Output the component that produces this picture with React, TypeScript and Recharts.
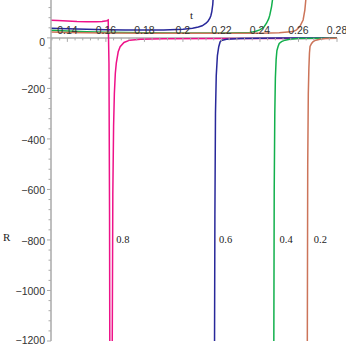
import React from 'react';
import { LineChart, Line, XAxis, YAxis, ReferenceLine, ReferenceDot } from 'recharts';

// [t, R] pairs, one array per branch (each curve has a pole)
const curve08Left = [[0.1315, 70], [0.135, 69], [0.14, 67], [0.145, 65], [0.15, 64], [0.155, 63.5], [0.158, 65], [0.1605, 68], [0.1612, 71], [0.1616, -100], [0.1619, -700], [0.1621, -1500]];
const curve08Right = [[0.1632, -1400], [0.1636, -620], [0.164, -350], [0.1644, -220], [0.1649, -140], [0.1654, -100], [0.1664, -55], [0.1674, -35], [0.1694, -18], [0.1724, -9], [0.178, -5], [0.19, -3], [0.22, -2], [0.25, -2], [0.28, -1.5]];

const curve06Left = [[0.1315, 38], [0.14, 36.5], [0.15, 34], [0.16, 32], [0.17, 31], [0.18, 31], [0.19, 31.5], [0.2, 34], [0.205, 38], [0.208, 43], [0.21, 48], [0.212, 58], [0.213, 66], [0.214, 78], [0.2145, 88], [0.215, 104], [0.2155, 132], [0.2158, 170]];
const curve06Right = [[0.2163, -1500], [0.2166, -700], [0.2169, -300], [0.2173, -150], [0.2179, -70], [0.2186, -35], [0.2193, -16], [0.22, -10], [0.2226, -5], [0.23, -2], [0.25, -0.5], [0.28, 0]];

const curve04Left = [[0.1315, 30], [0.14, 27.5], [0.15, 24], [0.16, 22], [0.18, 20], [0.2, 19], [0.22, 19], [0.23, 20], [0.2347, 21], [0.2375, 25], [0.2399, 31.5], [0.242, 42], [0.2434, 58], [0.2445, 75], [0.2451, 90], [0.246, 123], [0.2465, 150], [0.2468, 190]];
const curve04Right = [[0.2471, -1500], [0.2474, -600], [0.2477, -300], [0.248, -160], [0.2484, -85], [0.2488, -50], [0.2494, -34], [0.25, -22], [0.2512, -15], [0.253, -9], [0.2555, -5], [0.26, -2.5], [0.27, -1.5], [0.28, -1]];

const curve02Left = [[0.1315, 23], [0.14, 21], [0.15, 20], [0.16, 19], [0.18, 18.5], [0.2, 18], [0.22, 18], [0.24, 18.5], [0.25, 20], [0.2572, 25], [0.259, 32], [0.2607, 44.5], [0.2624, 71], [0.2633, 110], [0.2638, 150], [0.2641, 190]];
const curve02Right = [[0.2645, -1500], [0.2648, -500], [0.2651, -220], [0.2654, -120], [0.2657, -60], [0.266, -34], [0.2668, -22], [0.2676, -15], [0.269, -9], [0.2711, -5], [0.274, -2.5], [0.28, -1]];

const curveNames = ['0.8', '0.6', '0.4', '0.2'];
const curveLabelT = [0.1688, 0.2222, 0.2536, 0.2714];
const curveLabelR = -800;

const xMajorTicks = [0.14, 0.16, 0.18, 0.2, 0.22, 0.24, 0.26, 0.28];
const yMajorTicks = [0, -200, -400, -600, -800, -1000, -1200];

const T_DOMAIN = [0.1315, 0.28];
const R_DOMAIN = [-1200, 150];

const COLORS = ['#ee1289', '#28289a', '#12b04c', '#cc7459'];
const AXIS = '#aaaaaa';
const SANS = '"Liberation Sans", Arial, sans-serif';
const SERIF = '"Liberation Serif", "Times New Roman", serif';

const toRows = (pairs: number[][]) => pairs.map(([t, R]) => ({ t, R }));

// minor ticks: 5 subdivisions between labelled ticks
const xMinorTicks: number[] = [];
for (let i = 0; i < xMajorTicks.length - 1; i++) {
  for (let k = 1; k < 5; k++) xMinorTicks.push(xMajorTicks[i] + (k * (xMajorTicks[i + 1] - xMajorTicks[i])) / 5);
}
xMinorTicks.unshift(0.136, 0.132);
const yAllTicks: number[] = [];
for (let i = 0; i < yMajorTicks.length; i++) {
  yAllTicks.push(yMajorTicks[i]);
  if (i < yMajorTicks.length - 1) {
    for (let k = 1; k < 5; k++) yAllTicks.push(yMajorTicks[i] + (k * (yMajorTicks[i + 1] - yMajorTicks[i])) / 5);
  }
}
yAllTicks.push(120, 80, 40);

const fmtR = (v: number) => (v < 0 ? '\u2212' + Math.abs(v) : String(v));

const YTick = (props: any) => {
  const { x, y, payload } = props;
  const v = payload.value;
  const major = v <= 0 && v % 200 === 0;
  const dy = v === 0 ? 4 : v === -1200 ? -1 : 1;
  return (
    <g>
      <line x1={x - (major ? 4 : 2.5)} x2={x} y1={y} y2={y} stroke={AXIS} strokeWidth={1} />
      {major && (
        <text x={x - 6} y={y + dy} textAnchor="end" dominantBaseline="central" fontSize={10.5} fontFamily={SANS} fill="#333">
          {fmtR(v)}
        </text>
      )}
    </g>
  );
};

export default function App() {
  const branches = [
    [curve08Left, curve08Right],
    [curve06Left, curve06Right],
    [curve04Left, curve04Right],
    [curve02Left, curve02Right],
  ];
  return (
    <div style={{ position: 'absolute', left: 0, top: 0, width: 346, height: 346, background: '#fff' }}>
      <LineChart width={346} height={346} margin={{ top: 0, right: 9, bottom: 5, left: 0 }}>
        <XAxis type="number" dataKey="t" domain={T_DOMAIN} allowDataOverflow hide />
        <YAxis
          type="number"
          domain={R_DOMAIN}
          allowDataOverflow
          ticks={yAllTicks}
          interval={0}
          width={51}
          tickSize={0}
          tickMargin={0}
          tickLine={false}
          axisLine={{ stroke: AXIS, strokeWidth: 1.5 }}
          tick={<YTick />}
        />
        <ReferenceLine y={0} stroke={AXIS} strokeWidth={1.5} />
        {xMinorTicks.map((t) => (
          <ReferenceDot
            key={'m' + t}
            x={t}
            y={0}
            r={1}
            shape={(p: any) => <line x1={p.cx} x2={p.cx} y1={p.cy} y2={p.cy + 2.5} stroke={AXIS} strokeWidth={1} />}
          />
        ))}
        {xMajorTicks.map((t) => (
          <ReferenceDot
            key={'M' + t}
            x={t}
            y={0}
            r={1}
            shape={(p: any) => (
              <g>
                <line x1={p.cx} x2={p.cx} y1={p.cy} y2={p.cy + 4} stroke={AXIS} strokeWidth={1} />
                <text x={p.cx} y={p.cy - 4} textAnchor="middle" fontSize={10.5} fontFamily={SANS} fill="#333">
                  {String(Number(t.toFixed(2)))}
                </text>
              </g>
            )}
          />
        ))}
        {branches.map((pair, i) =>
          pair.map((b, j) => (
            <Line
              key={i + '-' + j}
              data={toRows(b)}
              dataKey="R"
              type="linear"
              stroke={COLORS[i]}
              strokeWidth={1.5}
              dot={false}
              isAnimationActive={false}
            />
          ))
        )}
        {curveLabelT.map((t, i) => (
          <ReferenceDot
            key={'l' + i}
            x={t}
            y={curveLabelR}
            r={1}
            shape={(p: any) => (
              <text x={p.cx} y={p.cy} textAnchor="middle" dominantBaseline="central" fontSize={10.5} fontFamily={SERIF} fill="#222">
                {curveNames[i]}
              </text>
            )}
          />
        ))}
      </LineChart>
      <span style={{ position: 'absolute', left: 3, top: 231, fontFamily: SERIF, fontSize: 11, color: '#222' }}>R</span>
      <span style={{ position: 'absolute', left: 190, top: 9, fontFamily: SERIF, fontSize: 11, color: '#222' }}>t</span>
    </div>
  );
}
